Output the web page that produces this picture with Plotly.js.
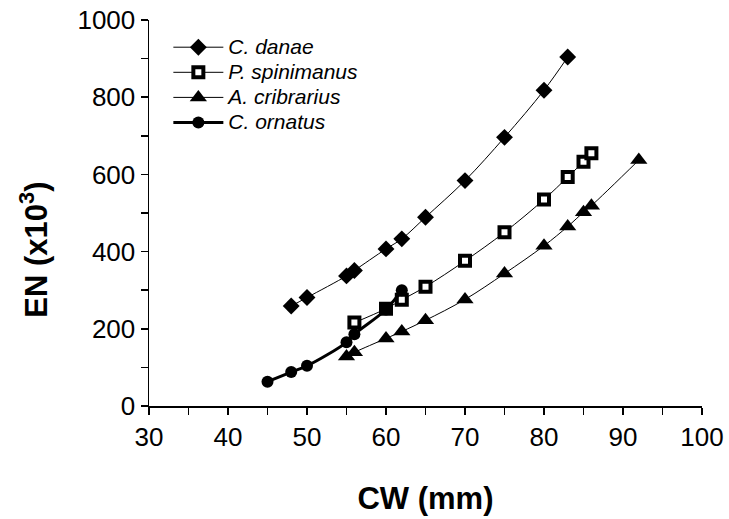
<!DOCTYPE html>
<html>
<head>
<meta charset="utf-8">
<script src="https://cdn.plot.ly/plotly-3.0.1.min.js"></script>
<style>
html,body{margin:0;padding:0;background:#fff;}
#chart{width:729px;height:519px;}
</style>
</head>
<body>
<div id="chart"></div>
<script>
// Data
const seriesNames = ["C. danae", "P. spinimanus", "A. cribrarius", "C. ornatus"];

const danaeCW = [48, 50, 55, 56, 60, 62, 65, 70, 75, 80, 83];
const danaeEN = [259, 281, 337, 351, 407, 433, 489, 584, 696, 818, 904];

const spinimanusCW = [56, 60, 62, 65, 70, 75, 80, 83, 85, 86];
const spinimanusEN = [216, 252, 275, 309, 376, 450, 535, 593, 633, 655];

const cribrariusCW = [55, 56, 60, 62, 65, 70, 75, 80, 83, 85, 86, 92];
const cribrariusEN = [128, 139, 175, 193, 222, 276, 343, 415, 465, 502, 519, 637];

const ornatusCW = [45, 48, 50, 55, 56, 60, 62];
const ornatusEN = [63, 88, 104, 165, 186, 250, 300];

const xTickVals = [30, 40, 50, 60, 70, 80, 90, 100];
const yTickVals = [0, 200, 400, 600, 800, 1000];

const FONT = "Liberation Sans, Arial, Helvetica, sans-serif";
const legendName = n => "<span style='font-size:21px'>" + n + "</span>";

const traces = [
  {
    x: danaeCW, y: danaeEN, name: legendName(seriesNames[0]), type: "scatter", mode: "lines+markers",
    line: {color: "#000", width: 1, shape: "spline"},
    marker: {symbol: "diamond", size: 13, color: "#000", line: {color: "#000", width: 0}}
  },
  {
    x: spinimanusCW, y: spinimanusEN, name: legendName(seriesNames[1]), type: "scatter", mode: "lines+markers",
    line: {color: "#000", width: 1, shape: "spline"},
    marker: {symbol: "square", size: 10, color: "#fff", line: {color: "#000", width: 4}}
  },
  {
    x: cribrariusCW, y: cribrariusEN, name: legendName(seriesNames[2]), type: "scatter", mode: "lines+markers",
    line: {color: "#000", width: 1, shape: "spline"},
    marker: {symbol: "triangle-up", size: 15, color: "#000", line: {color: "#000", width: 0}}
  },
  {
    x: ornatusCW, y: ornatusEN, name: legendName(seriesNames[3]), type: "scatter", mode: "lines+markers",
    line: {color: "#000", width: 3, shape: "spline"},
    marker: {symbol: "circle", size: 12, color: "#000", line: {color: "#000", width: 0}}
  }
];

const layout = {
  width: 729, height: 519,
  margin: {l: 149, r: 27, t: 20, b: 113, pad: 0},
  paper_bgcolor: "#fff", plot_bgcolor: "#fff",
  font: {family: FONT, color: "#000", size: 26},
  showlegend: true,
  legend: {
    x: 0.035, y: 0.975, xanchor: "left", yanchor: "top",
    bgcolor: "rgba(0,0,0,0)", borderwidth: 0,
    font: {family: FONT, size: 17, color: "#000", style: "italic"},
    itemwidth: 50, tracegroupgap: 0
  },
  xaxis: {
    range: [30, 100], tickvals: xTickVals, ticktext: xTickVals.map(String),
    showgrid: false, zeroline: false, showline: true, linecolor: "#000", linewidth: 1.5,
    ticks: "outside", ticklen: 7, tickwidth: 1.5, tickcolor: "#000",
    minor: {dtick: 5, ticks: "outside", ticklen: 7, tickwidth: 1.5, tickcolor: "#000", showgrid: false},
    tickfont: {size: 26, family: FONT},
    title: {text: "<b>CW (mm)</b>", font: {size: 31, family: FONT}, standoff: 36},
    fixedrange: true
  },
  yaxis: {
    range: [0, 1000], tickvals: yTickVals, ticktext: yTickVals.map(String),
    showgrid: false, zeroline: false, showline: true, linecolor: "#000", linewidth: 1.5,
    ticks: "outside", ticklen: 7, tickwidth: 1.5, tickcolor: "#000",
    minor: {dtick: 100, ticks: "outside", ticklen: 7, tickwidth: 1.5, tickcolor: "#000", showgrid: false},
    tickfont: {size: 26, family: FONT},
    fixedrange: true
  },
  annotations: [
    {
      text: "<b>EN (x10<sup>3</sup>)</b>", textangle: -90,
      xref: "paper", yref: "paper", x: -0.208, y: 0.405, xanchor: "center", yanchor: "middle",
      showarrow: false, font: {size: 31, family: FONT, color: "#000"}
    }
  ]
};

Plotly.newPlot("chart", traces, layout, {displayModeBar: false, staticPlot: true});
</script>
</body>
</html>
